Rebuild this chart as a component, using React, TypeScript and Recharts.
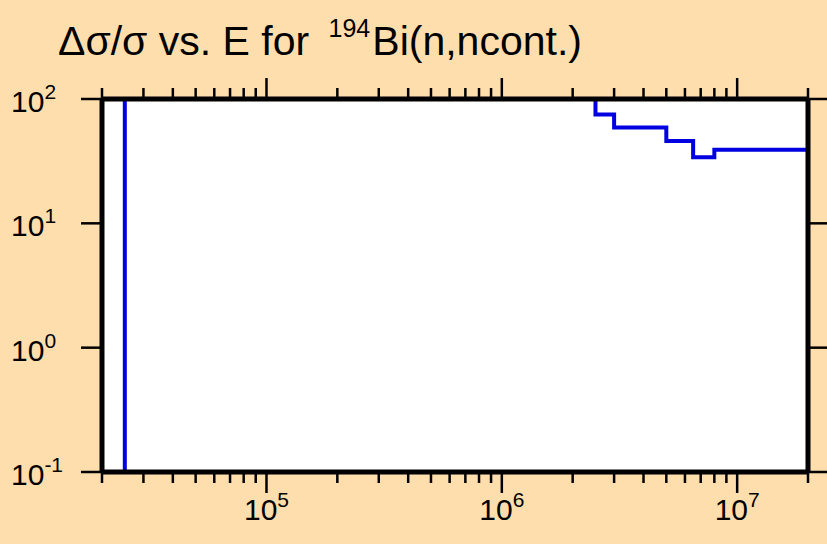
import { LineChart, Line, XAxis, YAxis, CartesianGrid } from 'recharts';

// Relative uncertainty (%) of the 194Bi(n,ncont.) cross section, step histogram
const energies = [2.5e4, 2.5e4, 2.5e6, 3e6, 5e6, 6.5e6, 8e6, 2e7, 2e7];
const relErr = [0.1, 100, 75, 59, 46, 34, 39, 39, 0.1];

const xTicks = [
  2e4, 3e4, 4e4, 5e4, 6e4, 7e4, 8e4, 9e4,
  1e5, 2e5, 3e5, 4e5, 5e5, 6e5, 7e5, 8e5, 9e5,
  1e6, 2e6, 3e6, 4e6, 5e6, 6e6, 7e6, 8e6, 9e6,
  1e7, 2e7,
];
const yTicks = [0.1, 1, 10, 100];

const data = energies.map((e, i) => ({ e, v: relErr[i] }));

const FONT = '"Liberation Sans", Arial, sans-serif';

const isMajor = (v: number) => Math.abs(Math.log10(v) - Math.round(Math.log10(v))) < 1e-9;
const expOf = (v: number) => Math.round(Math.log10(v));

function BottomTick({ x, y, payload }: any) {
  const major = isMajor(payload.value);
  return (
    <g>
      <line x1={x} x2={x} y1={y} y2={y + (major ? 21 : 11)} stroke="#000" strokeWidth={2.5} />
      {major && (
        <text x={x} y={y + 48} textAnchor="middle" fontSize={30} fontFamily={FONT} fill="#000">
          10
          <tspan dy={-13} fontSize={21}>{expOf(payload.value)}</tspan>
        </text>
      )}
    </g>
  );
}

function TopTick({ x, y, payload }: any) {
  const major = isMajor(payload.value);
  return <line x1={x} x2={x} y1={y} y2={y - (major ? 21 : 11)} stroke="#000" strokeWidth={2.5} />;
}

function LeftTick({ x, y, payload }: any) {
  return (
    <g>
      <line x1={x} x2={x - 21} y1={y} y2={y} stroke="#000" strokeWidth={2.5} />
      <text x={11} y={y + 13} textAnchor="start" fontSize={30} fontFamily={FONT} fill="#000">
        10
        <tspan dy={-13} fontSize={21}>{expOf(payload.value)}</tspan>
      </text>
    </g>
  );
}

function RightTick({ x, y }: any) {
  return <line x1={x} x2={x + 21} y1={y} y2={y} stroke="#000" strokeWidth={2.5} />;
}

export default function App() {
  return (
    <div style={{ position: 'absolute', left: 0, top: 0, width: 827, height: 544, background: '#FFDEAD' }}>
      <LineChart width={827} height={544} data={data} margin={{ top: 69, right: 9, bottom: 42, left: 42 }}>
        <CartesianGrid horizontal={false} vertical={false} fill="#FFFFFF" />
        <XAxis
          dataKey="e"
          type="number"
          scale="log"
          domain={[2e4, 2e7]}
          allowDataOverflow
          ticks={xTicks}
          interval={0}
          height={30}
          tickSize={0}
          tickMargin={0}
          tickLine={false}
          tick={<BottomTick />}
          axisLine={{ stroke: '#000', strokeWidth: 5 }}
        />
        <XAxis
          xAxisId="top"
          orientation="top"
          dataKey="e"
          type="number"
          scale="log"
          domain={[2e4, 2e7]}
          allowDataOverflow
          ticks={xTicks}
          interval={0}
          height={30}
          tickSize={0}
          tickMargin={0}
          tickLine={false}
          tick={<TopTick />}
          axisLine={{ stroke: '#000', strokeWidth: 5 }}
        />
        <YAxis
          type="number"
          scale="log"
          domain={[0.1, 100]}
          allowDataOverflow
          ticks={yTicks}
          interval={0}
          width={60}
          tickSize={0}
          tickMargin={0}
          tickLine={false}
          tick={<LeftTick />}
          axisLine={{ stroke: '#000', strokeWidth: 5 }}
        />
        <YAxis
          yAxisId="right"
          orientation="right"
          type="number"
          scale="log"
          domain={[0.1, 100]}
          allowDataOverflow
          ticks={yTicks}
          interval={0}
          width={10}
          tickSize={0}
          tickMargin={0}
          tickLine={false}
          tick={<RightTick />}
          axisLine={{ stroke: '#000', strokeWidth: 5 }}
        />
        <Line
          type="stepAfter"
          dataKey="v"
          stroke="#0000E0"
          strokeWidth={4}
          dot={false}
          isAnimationActive={false}
        />
      </LineChart>
      <svg width={827} height={80} style={{ position: 'absolute', left: 0, top: 0, pointerEvents: 'none' }}>
        <text x={58} y={55} fontSize={41} fontFamily={FONT} fill="#000">
          Δσ/σ vs. E for{' '}
          <tspan dx={8} dy={-18} fontSize={25}>194</tspan>
          <tspan dx={2} dy={18}>Bi(n,ncont.)</tspan>
        </text>
      </svg>
    </div>
  );
}
